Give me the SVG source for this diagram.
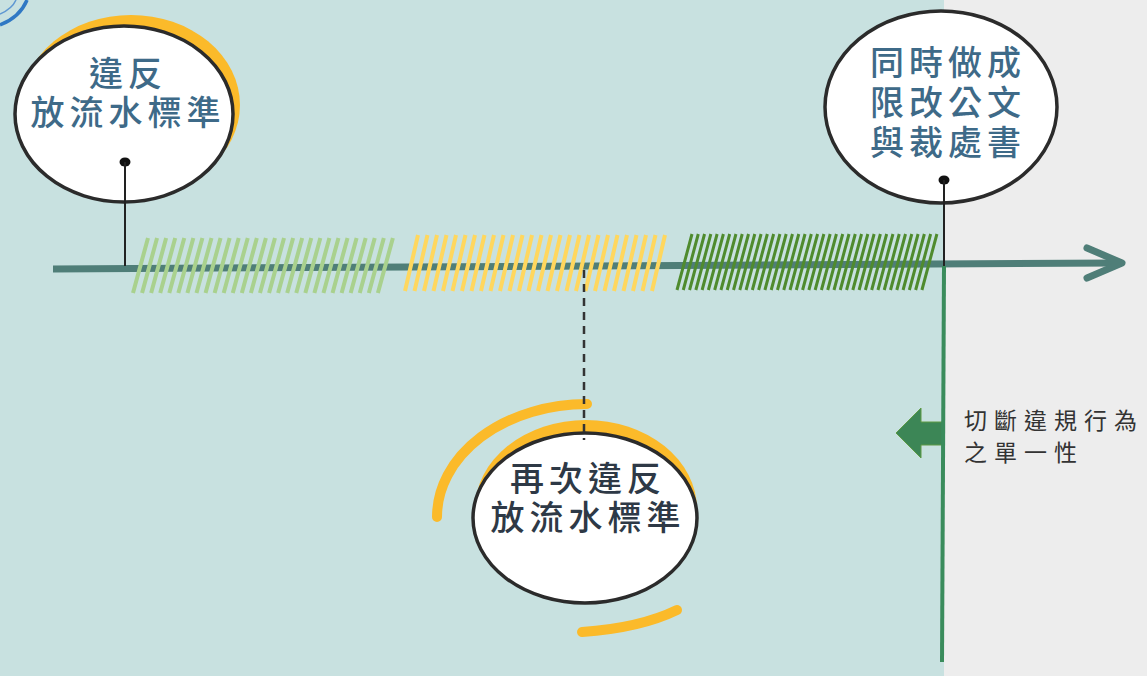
<svg xmlns="http://www.w3.org/2000/svg" width="1147" height="676" viewBox="0 0 1147 676">
<style>
.cjk{font-family:"Liberation Sans","Noto Sans CJK TC","Noto Sans CJK SC",sans-serif;}
.blue{fill:#3E6A88;font-size:34px;font-weight:500;letter-spacing:5px;text-anchor:middle;}
.dark{fill:#2E3946;font-size:34px;font-weight:500;letter-spacing:5px;text-anchor:middle;}
.note{fill:#333333;font-size:23px;letter-spacing:7px;}
.bubble{fill:#FFFFFF;stroke:#2B2B2B;stroke-width:3.5;}
.gold{stroke:#FBBA2A;fill:none;stroke-width:10;stroke-linecap:round;}
.pin{stroke:#222;stroke-width:2;fill:none;}
</style>
<rect x="0" y="0" width="944" height="676" fill="#C8E1E0"/>
<rect x="944" y="0" width="203" height="676" fill="#EDEDED"/>
<g id="corner-arcs" fill="none">
<path d="M0,25 Q20,17 27,0" stroke="#2F78C4" stroke-width="3.5"/>
<path d="M0,14 Q12,9 16,0" stroke="#5E97D2" stroke-width="1.5"/>
</g>
<g id="timeline-axis">
<line x1="53" y1="269" x2="1118" y2="263" stroke="#4F7E78" stroke-width="7"/>
<path d="M1087,248 L1122,263 L1087,278" fill="none" stroke="#4F7E78" stroke-width="7" stroke-linecap="round" stroke-linejoin="round"/>
</g>
<g id="hatches" fill="none">
<path stroke="#A9D18E" stroke-width="4" d="M148,238 l-15,55 m24.07,-55 l-15,55 m24.07,-55 l-15,55 m24.07,-55 l-15,55 m24.07,-55 l-15,55 m24.07,-55 l-15,55 m24.07,-55 l-15,55 m24.07,-55 l-15,55 m24.07,-55 l-15,55 m24.07,-55 l-15,55 m24.07,-55 l-15,55 m24.07,-55 l-15,55 m24.07,-55 l-15,55 m24.07,-55 l-15,55 m24.07,-55 l-15,55 m24.07,-55 l-15,55 m24.07,-55 l-15,55 m24.07,-55 l-15,55 m24.07,-55 l-15,55 m24.07,-55 l-15,55 m24.07,-55 l-15,55 m24.07,-55 l-15,55 m24.07,-55 l-15,55 m24.07,-55 l-15,55 m24.07,-55 l-15,55 m24.07,-55 l-15,55 m24.07,-55 l-15,55 m24.07,-55 l-15,55"/>
<path stroke="#FFD75E" stroke-width="4" d="M418,235 l-13,56 m22.5,-56 l-13,56 m22.5,-56 l-13,56 m22.5,-56 l-13,56 m22.5,-56 l-13,56 m22.5,-56 l-13,56 m22.5,-56 l-13,56 m22.5,-56 l-13,56 m22.5,-56 l-13,56 m22.5,-56 l-13,56 m22.5,-56 l-13,56 m22.5,-56 l-13,56 m22.5,-56 l-13,56 m22.5,-56 l-13,56 m22.5,-56 l-13,56 m22.5,-56 l-13,56 m22.5,-56 l-13,56 m22.5,-56 l-13,56 m22.5,-56 l-13,56 m22.5,-56 l-13,56 m22.5,-56 l-13,56 m22.5,-56 l-13,56 m22.5,-56 l-13,56 m22.5,-56 l-13,56 m22.5,-56 l-13,56 m22.5,-56 l-13,56 m22.5,-56 l-13,56"/>
<path stroke="#4F8B2E" stroke-width="3" d="M692,234 l-15,56 m21.28,-56 l-15,56 m21.28,-56 l-15,56 m21.28,-56 l-15,56 m21.28,-56 l-15,56 m21.28,-56 l-15,56 m21.28,-56 l-15,56 m21.28,-56 l-15,56 m21.28,-56 l-15,56 m21.28,-56 l-15,56 m21.28,-56 l-15,56 m21.28,-56 l-15,56 m21.28,-56 l-15,56 m21.28,-56 l-15,56 m21.28,-56 l-15,56 m21.28,-56 l-15,56 m21.28,-56 l-15,56 m21.28,-56 l-15,56 m21.28,-56 l-15,56 m21.28,-56 l-15,56 m21.28,-56 l-15,56 m21.28,-56 l-15,56 m21.28,-56 l-15,56 m21.28,-56 l-15,56 m21.28,-56 l-15,56 m21.28,-56 l-15,56 m21.28,-56 l-15,56 m21.28,-56 l-15,56 m21.28,-56 l-15,56 m21.28,-56 l-15,56 m21.28,-56 l-15,56 m21.28,-56 l-15,56 m21.28,-56 l-15,56 m21.28,-56 l-15,56 m21.28,-56 l-15,56 m21.28,-56 l-15,56 m21.28,-56 l-15,56 m21.28,-56 l-15,56 m21.28,-56 l-15,56 m21.28,-56 l-15,56"/>
</g>
<g id="node-first-violation">
<ellipse cx="131" cy="105" rx="109" ry="90" fill="#FBBA2A"/>
<ellipse cx="124" cy="114" rx="109" ry="88" class="bubble"/>
<text class="cjk blue"><tspan x="128" y="86">違反</tspan><tspan x="128" y="125">放流水標準</tspan></text>
<ellipse cx="125" cy="162" rx="5.5" ry="4.5" fill="#111"/>
</g>
<g id="node-order">
<ellipse cx="941" cy="107" rx="116" ry="96" class="bubble" stroke-width="4"/>
<text class="cjk blue"><tspan x="948" y="75">同時做成</tspan><tspan x="948" y="115">限改公文</tspan><tspan x="948" y="155">與裁處書</tspan></text>
<ellipse cx="944" cy="180" rx="5.5" ry="4.5" fill="#111"/>
</g>
<g id="node-second-violation">
<ellipse cx="586" cy="509" rx="111" ry="89" fill="#FBBA2A"/>
<ellipse cx="585" cy="518" rx="112" ry="85" class="bubble"/>
<path class="gold" d="M437,517 A150,113 0 0 1 587,404"/>
<path class="gold" d="M582,632 Q640,628 677,610"/>
<text class="cjk dark"><tspan x="588" y="491">再次違反</tspan><tspan x="588" y="530">放流水標準</tspan></text>
</g>
<g id="node-cut">
<path d="M896,433 L921,408 L921,422 L943,422 L943,445 L921,445 L921,458 Z" fill="#3C8656" stroke="#5E9A45" stroke-width="1"/>
<text class="cjk note"><tspan x="964" y="429">切斷違規行為</tspan><tspan x="964" y="461">之單一性</tspan></text>
</g>
<g id="connectors">
<line x1="944" y1="266" x2="942" y2="662" stroke="#3A8C5C" stroke-width="4"/>
<line x1="125" y1="162" x2="125" y2="266" class="pin"/>
<line x1="944" y1="180" x2="944" y2="266" class="pin"/>
<line x1="584" y1="270" x2="584" y2="440" stroke="#333" stroke-width="2.5" stroke-dasharray="8,6"/>
</g>
</svg>
